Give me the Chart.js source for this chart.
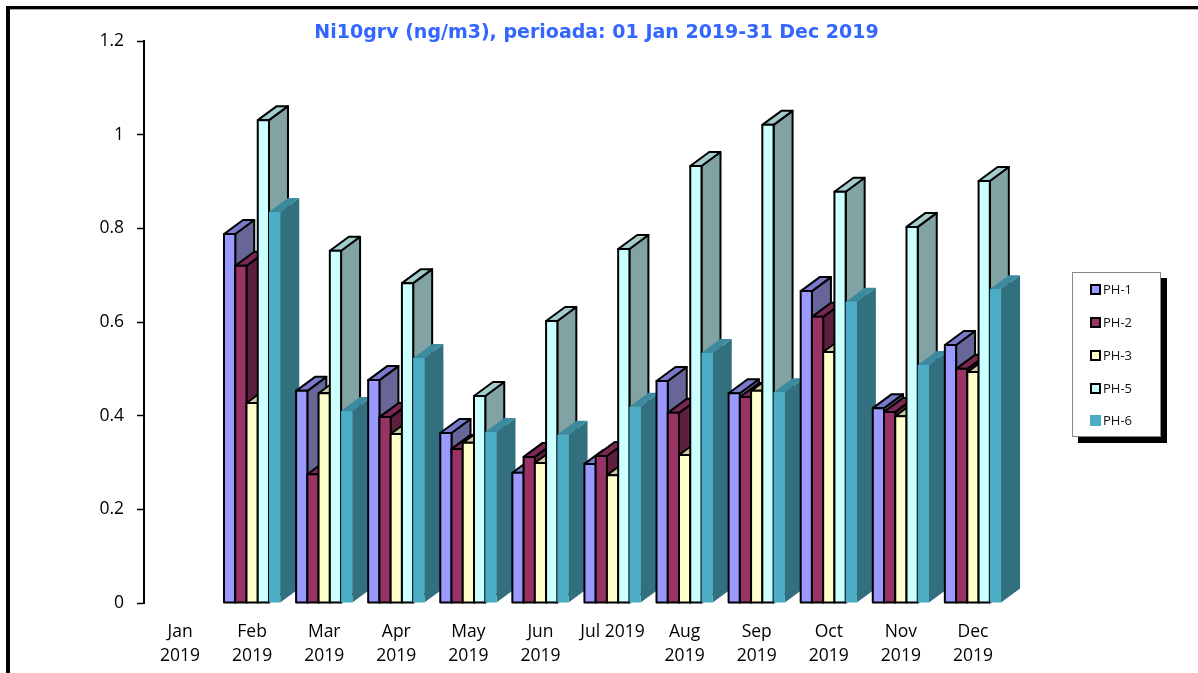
<!DOCTYPE html>
<html>
<head>
<meta charset="utf-8">
<title>Ni10grv</title>
<script src="https://cdn.jsdelivr.net/npm/chart.js@4/dist/chart.umd.min.js"></script>
<style>
  html, body { margin: 0; padding: 0; background: #fff; overflow: hidden; }
  #frame { position: absolute; left: 6px; top: 6px; right: 0; bottom: 0; border-left: 4px solid #000; border-top: 3px solid #000; }
  #frameLine { position: absolute; left: 10px; top: 9px; right: 0; height: 1px; background: #aaa; }
  canvas { position: absolute; left: 0; top: 0; }
  #legend { position: absolute; left: 1072px; top: 272px; width: 87px; height: 163px; background: #fff; border: 1px solid #888; box-shadow: 6px 6px 0 #000; font: 13px "Open Sans", sans-serif; color: #111; }
  #legend div { position: absolute; left: 17px; height: 16px; line-height: 16px; white-space: nowrap; }
  #legend i { display: inline-block; box-sizing: border-box; width: 11px; height: 11px; margin-right: 2px; vertical-align: -1px; border: 2px solid #000; }
</style>
</head>
<body>
<div id="frame"></div>
<div id="frameLine"></div>
<canvas id="myChart" width="1198" height="673"></canvas>
<div id="legend"></div>
<script>
  'use strict'

  const chartTitle = 'Ni10grv (ng/m3), perioada: 01 Jan 2019-31 Dec 2019'
  const months = [
    ['Jan', '2019'], ['Feb', '2019'], ['Mar', '2019'], ['Apr', '2019'],
    ['May', '2019'], ['Jun', '2019'], 'Jul 2019', ['Aug', '2019'],
    ['Sep', '2019'], ['Oct', '2019'], ['Nov', '2019'], ['Dec', '2019']
  ]
  const ph1 = [null, 0.788, 0.453, 0.476, 0.363, 0.278, 0.297, 0.474, 0.448, 0.666, 0.416, 0.551]
  const ph2 = [null, 0.72, 0.275, 0.397, 0.329, 0.312, 0.314, 0.406, 0.44, 0.611, 0.408, 0.5]
  const ph3 = [null, 0.427, 0.448, 0.361, 0.342, 0.299, 0.273, 0.316, 0.453, 0.536, 0.399, 0.493]
  const ph5 = [null, 1.031, 0.752, 0.683, 0.442, 0.602, 0.756, 0.933, 1.021, 0.878, 0.803, 0.901]
  const ph6 = [null, 0.835, 0.41, 0.523, 0.365, 0.359, 0.419, 0.534, 0.45, 0.643, 0.508, 0.67]

  // front, top, side
  const looks = {
    'PH-1': ['#9999ff', '#7a7acc', '#666699'],
    'PH-2': ['#993366', '#7a2952', '#5e1f3f'],
    'PH-3': ['#ffffcc', '#cccca3', '#a3a382'],
    'PH-5': ['#ccffff', '#a3cccc', '#82a3a3'],
    'PH-6': ['#4bacc6', '#3c8a9e', '#327080']
  }
  const depthX = 19
  const depthY = 14

  function shape(ctx, pts, fill, line) {
    ctx.beginPath()
    pts.forEach((p, i) => i ? ctx.lineTo(p[0], p[1]) : ctx.moveTo(p[0], p[1]))
    ctx.closePath()
    ctx.fillStyle = fill
    ctx.fill()
    if (line) {
      ctx.strokeStyle = '#000'
      ctx.lineWidth = 2
      ctx.lineJoin = 'round'
      ctx.stroke()
    }
  }

  // bars go category by category so the next group covers the side of the one before
  const bars3d = {
    id: 'bars3d',
    afterLayout(chart) {
      // title is centred on the whole picture, not on the plot side
      chart.titleBlock.left += 92
      chart.titleBlock.right += 92
      chart.titleBlock.top += 2
      chart.titleBlock.bottom += 2
    },
    afterDatasetsDraw(chart) {
      const ctx = chart.ctx
      ctx.save()
      months.forEach((m, i) => {
        chart.data.datasets.forEach((ds, d) => {
          const bar = chart.getDatasetMeta(d).data[i]
          if (ds.data[i] === null) return
          const c = looks[ds.label]
          const line = ds.label !== 'PH-6'
          const l = bar.x - bar.width / 2
          const r = bar.x + bar.width / 2
          const t = bar.y
          const b = bar.base
          shape(ctx, [[r, t], [r + depthX, t - depthY], [r + depthX, b - depthY], [r, b]], c[2], line)
          shape(ctx, [[l, t], [l + depthX, t - depthY], [r + depthX, t - depthY], [r, t]], c[1], line)
          shape(ctx, [[l, t], [r, t], [r, b], [l, b]], c[0], line)
        })
      })
      ctx.restore()
    }
  }

  const tickFont = { family: '"Open Sans"', size: 17.5, lineHeight: 1.37 }
  const makeSet = (label, data) => ({ label, data, backgroundColor: 'transparent', borderWidth: 0 })

  const myChart = new Chart(document.getElementById('myChart'), {
    type: 'bar',
    data: {
      labels: months,
      datasets: [
        makeSet('PH-1', ph1),
        makeSet('PH-2', ph2),
        makeSet('PH-3', ph3),
        makeSet('PH-5', ph5),
        makeSet('PH-6', ph6)
      ]
    },
    options: {
      responsive: false,
      animation: false,
      categoryPercentage: 0.78,
      barPercentage: 1,
      layout: { padding: { right: 189 } },
      plugins: {
        legend: { display: false },
        tooltip: { enabled: false },
        title: {
          display: true,
          text: chartTitle,
          color: '#3366ff',
          font: { family: '"DejaVu Sans"', size: 19, weight: 'bold', lineHeight: 1 },
          padding: { top: 22, bottom: 0 }
        }
      },
      scales: {
        x: {
          grid: { display: false },
          border: { display: false },
          afterFit: s => { s.height = 70 },
          ticks: { color: '#000', font: tickFont, maxRotation: 0, autoSkip: false, padding: 9 }
        },
        y: {
          min: 0,
          max: 1.2,
          afterFit: s => { s.width = 144 },
          border: { color: '#000', width: 2 },
          grid: { drawOnChartArea: false, color: '#000', tickLength: 7, tickWidth: 1.5 },
          ticks: {
            stepSize: 0.2,
            color: '#000',
            font: { family: '"Open Sans"', size: 17.5 },
            padding: 13,
            callback: v => String(+v.toFixed(1))
          }
        }
      }
    },
    plugins: [bars3d]
  })

  // legend box sits well right of the plot, easier as plain html
  const legendTops = [8, 41, 74, 107, 139]
  const legendBox = document.getElementById('legend')
  myChart.data.datasets.forEach((ds, i) => {
    const row = document.createElement('div')
    row.style.top = legendTops[i] + 'px'
    const swatch = document.createElement('i')
    swatch.style.background = looks[ds.label][0]
    if (ds.label === 'PH-6') swatch.style.border = 'none'
    row.appendChild(swatch)
    row.appendChild(document.createTextNode(ds.label))
    legendBox.appendChild(row)
  })
</script>
</body>
</html>
